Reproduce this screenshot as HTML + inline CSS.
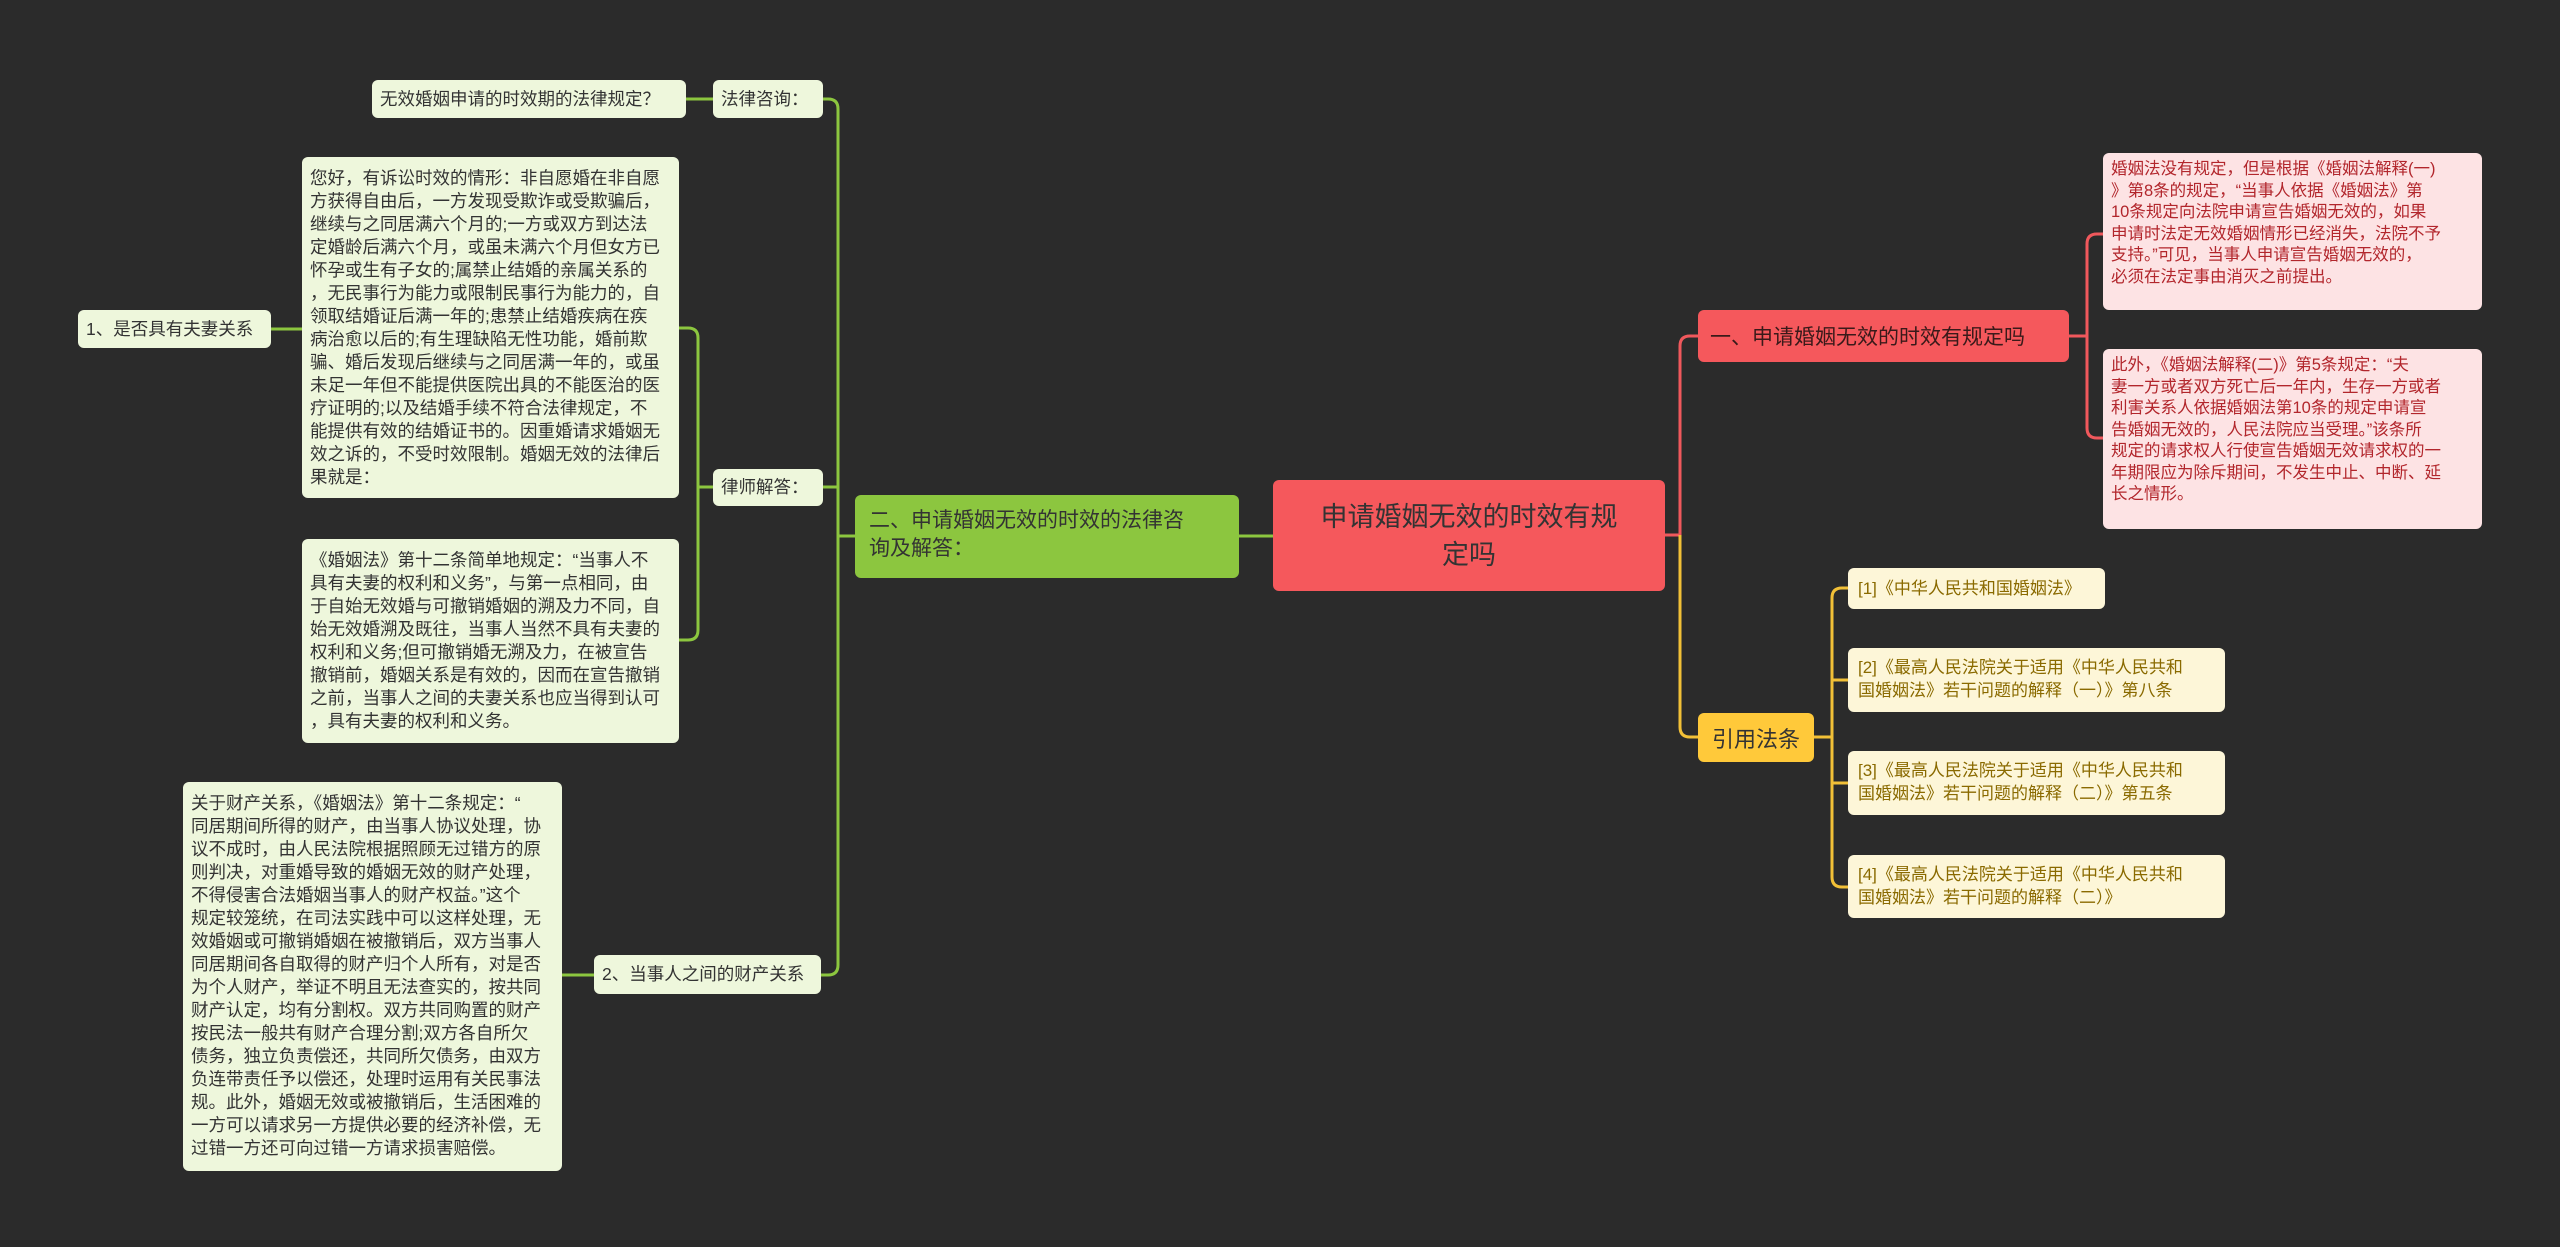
<!DOCTYPE html>
<html><head><meta charset="utf-8"><style>
html,body{margin:0;width:2560px;height:1247px;background:#2b2b2b;position:relative;overflow:hidden;font-family:"Liberation Sans","Noto Sans CJK SC",sans-serif;}
.n{position:absolute;box-sizing:border-box;border-radius:6px;white-space:nowrap;overflow:hidden;}
.g{background:#eef7dc;color:#333;font-size:17.5px;line-height:23px;padding:6px 8px;}
.p{background:#fde3e4;color:#b2262c;font-size:16.5px;line-height:21.5px;padding:6px 8px;}
.y{background:#fdf6d8;color:#8a6a00;font-size:17px;line-height:23px;padding:8px 10px;}
.c{display:flex;align-items:center;}
svg{position:absolute;left:0;top:0;}
</style></head><body>
<svg width="2560" height="1247" fill="none" stroke-width="3">
<g stroke="#8cc63f">
<path d="M1273 536 H1239"/>
<path d="M855 536 H838"/>
<path d="M823 99 H828 Q838 99 838 109 V965 Q838 975 828 975 H821"/>
<path d="M823 487 H838"/>
<path d="M713 99 H686"/>
<path d="M713 487 H698"/>
<path d="M679 328 H688 Q698 328 698 338 V630 Q698 640 688 640 H679"/>
<path d="M302 329 H271"/>
<path d="M594 975 H562"/>
</g>
<g stroke="#f0585c">
<path d="M1665 535 H1680 V346 Q1680 336 1690 336 H1698"/>
<path d="M2069 336 H2087"/>
<path d="M2103 234 H2097 Q2087 234 2087 244 V428 Q2087 438 2097 438 H2103"/>
</g>
<g stroke="#f2c037">
<path d="M1680 535 V727 Q1680 737 1690 737 H1698"/>
<path d="M1814 737 H1832"/>
<path d="M1848 588 H1842 Q1832 588 1832 598 V877 Q1832 887 1842 887 H1848"/>
<path d="M1832 680 H1848"/>
<path d="M1832 783 H1848"/>
</g>
</svg>

<div class="n c" style="left:1273px;top:480px;width:392px;height:111px;background:#f5585c;color:#333;font-size:27px;line-height:38px;justify-content:center;text-align:center;">申请婚姻无效的时效有规<br>定吗</div>

<div class="n c" style="left:1698px;top:310px;width:371px;height:52px;background:#f5585c;color:#3a1a1a;font-size:21px;padding:0 12px;">一、申请婚姻无效的时效有规定吗</div>
<div class="n p" style="left:2103px;top:153px;width:379px;height:157px;">婚姻法没有规定，但是根据《婚姻法解释(一)<br>》第8条的规定，“当事人依据《婚姻法》第<br>10条规定向法院申请宣告婚姻无效的，如果<br>申请时法定无效婚姻情形已经消失，法院不予<br>支持。”可见，当事人申请宣告婚姻无效的，<br>必须在法定事由消灭之前提出。</div>
<div class="n p" style="left:2103px;top:349px;width:379px;height:180px;">此外，《婚姻法解释(二)》第5条规定：“夫<br>妻一方或者双方死亡后一年内，生存一方或者<br>利害关系人依据婚姻法第10条的规定申请宣<br>告婚姻无效的，人民法院应当受理。”该条所<br>规定的请求权人行使宣告婚姻无效请求权的一<br>年期限应为除斥期间，不发生中止、中断、延<br>长之情形。</div>

<div class="n c" style="left:1698px;top:713px;width:116px;height:49px;background:#ffc93a;color:#333;font-size:22px;justify-content:center;">引用法条</div>
<div class="n y c" style="left:1848px;top:568px;width:257px;height:41px;padding:0 10px;">[1]《中华人民共和国婚姻法》</div>
<div class="n y" style="left:1848px;top:648px;width:377px;height:64px;">[2]《最高人民法院关于适用《中华人民共和<br>国婚姻法》若干问题的解释（一）》第八条</div>
<div class="n y" style="left:1848px;top:751px;width:377px;height:64px;">[3]《最高人民法院关于适用《中华人民共和<br>国婚姻法》若干问题的解释（二）》第五条</div>
<div class="n y" style="left:1848px;top:855px;width:377px;height:63px;">[4]《最高人民法院关于适用《中华人民共和<br>国婚姻法》若干问题的解释（二）》</div>

<div class="n" style="left:855px;top:495px;width:384px;height:83px;background:#8cc63f;color:#333;font-size:21px;line-height:28px;padding:12px 14px;">二、申请婚姻无效的时效的法律咨<br>询及解答：</div>

<div class="n g c" style="left:713px;top:80px;width:110px;height:38px;">法律咨询：</div>
<div class="n g c" style="left:372px;top:80px;width:314px;height:38px;">无效婚姻申请的时效期的法律规定？</div>
<div class="n g c" style="left:713px;top:469px;width:110px;height:37px;">律师解答：</div>
<div class="n g c" style="left:78px;top:310px;width:193px;height:38px;">1、是否具有夫妻关系</div>
<div class="n g c" style="left:594px;top:955px;width:227px;height:39px;">2、当事人之间的财产关系</div>

<div class="n g" style="left:302px;top:157px;width:377px;height:341px;padding-top:10px;">您好，有诉讼时效的情形：非自愿婚在非自愿<br>方获得自由后，一方发现受欺诈或受欺骗后，<br>继续与之同居满六个月的;一方或双方到达法<br>定婚龄后满六个月，或虽未满六个月但女方已<br>怀孕或生有子女的;属禁止结婚的亲属关系的<br>，无民事行为能力或限制民事行为能力的，自<br>领取结婚证后满一年的;患禁止结婚疾病在疾<br>病治愈以后的;有生理缺陷无性功能，婚前欺<br>骗、婚后发现后继续与之同居满一年的，或虽<br>未足一年但不能提供医院出具的不能医治的医<br>疗证明的;以及结婚手续不符合法律规定，不<br>能提供有效的结婚证书的。因重婚请求婚姻无<br>效之诉的，不受时效限制。婚姻无效的法律后<br>果就是：</div>

<div class="n g" style="left:302px;top:539px;width:377px;height:204px;padding-top:10px;">《婚姻法》第十二条简单地规定：“当事人不<br>具有夫妻的权利和义务”，与第一点相同，由<br>于自始无效婚与可撤销婚姻的溯及力不同，自<br>始无效婚溯及既往，当事人当然不具有夫妻的<br>权利和义务;但可撤销婚无溯及力，在被宣告<br>撤销前，婚姻关系是有效的，因而在宣告撤销<br>之前，当事人之间的夫妻关系也应当得到认可<br>，具有夫妻的权利和义务。</div>

<div class="n g" style="left:183px;top:782px;width:379px;height:389px;padding-top:10px;">关于财产关系，《婚姻法》第十二条规定：“<br>同居期间所得的财产，由当事人协议处理，协<br>议不成时，由人民法院根据照顾无过错方的原<br>则判决，对重婚导致的婚姻无效的财产处理，<br>不得侵害合法婚姻当事人的财产权益。”这个<br>规定较笼统，在司法实践中可以这样处理，无<br>效婚姻或可撤销婚姻在被撤销后，双方当事人<br>同居期间各自取得的财产归个人所有，对是否<br>为个人财产，举证不明且无法查实的，按共同<br>财产认定，均有分割权。双方共同购置的财产<br>按民法一般共有财产合理分割;双方各自所欠<br>债务，独立负责偿还，共同所欠债务，由双方<br>负连带责任予以偿还，处理时运用有关民事法<br>规。此外，婚姻无效或被撤销后，生活困难的<br>一方可以请求另一方提供必要的经济补偿，无<br>过错一方还可向过错一方请求损害赔偿。</div>
</body></html>
